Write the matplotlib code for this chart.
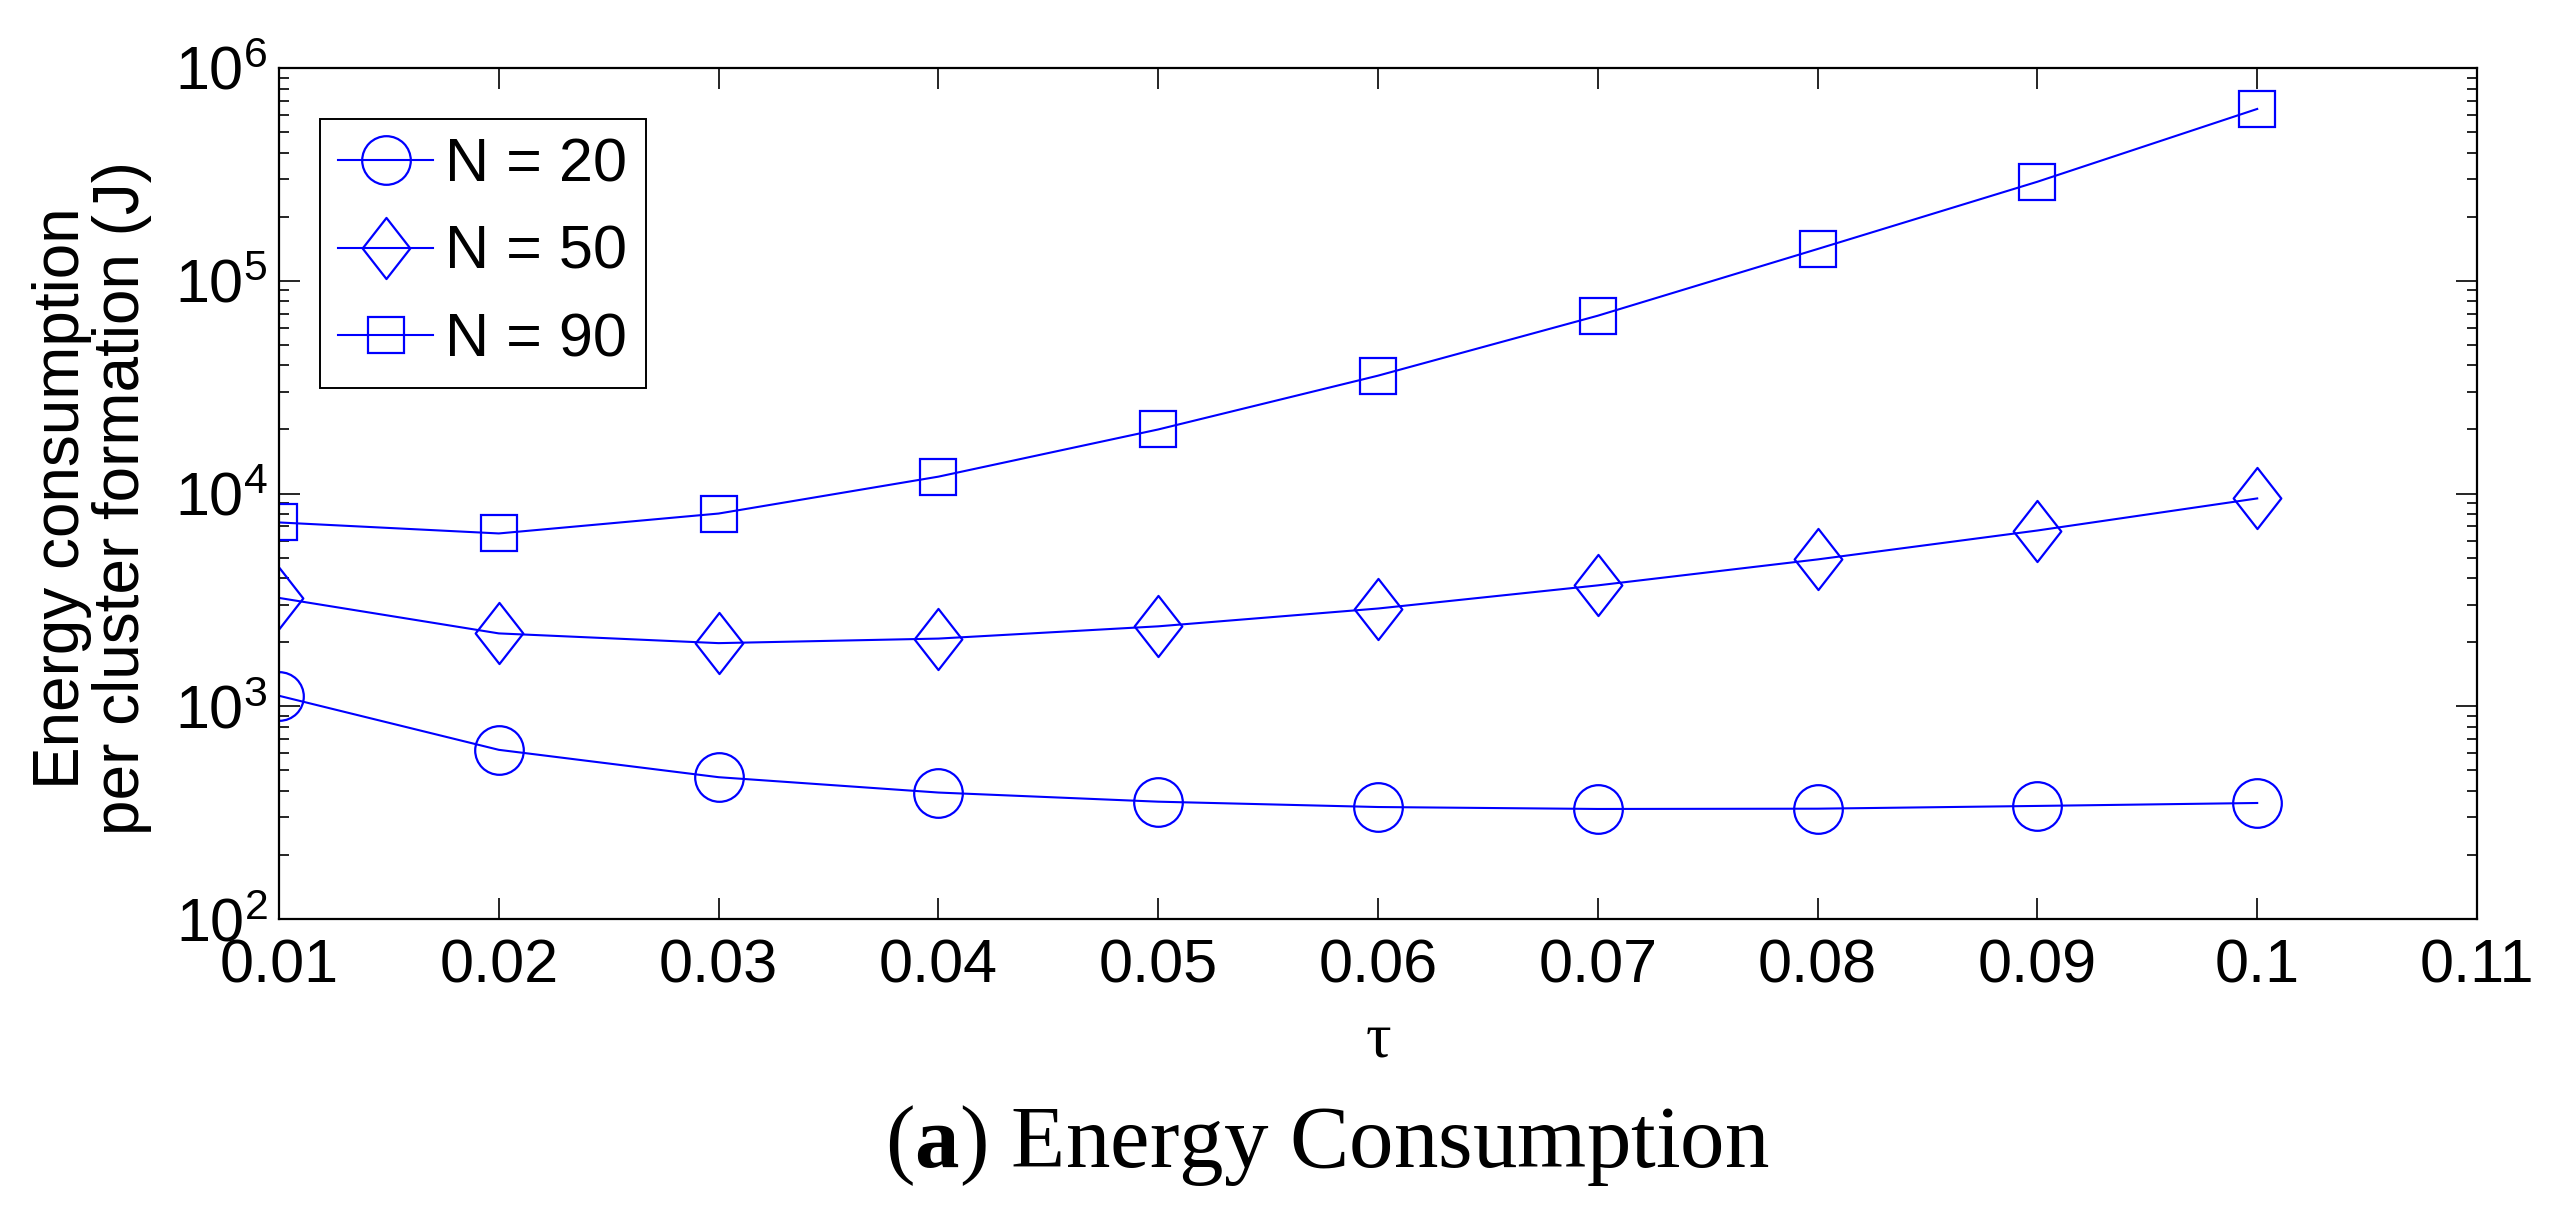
import matplotlib
matplotlib.use("Agg")
import matplotlib.pyplot as plt
from matplotlib.path import Path

## Data ##
tau = [0.01, 0.02, 0.03, 0.04, 0.05, 0.06, 0.07, 0.08, 0.09, 0.1]
energy_n20 = [1120, 624, 464, 393, 356, 336, 329, 330, 340, 351]
energy_n50 = [3230, 2200, 1980, 2080, 2375, 2880, 3700, 4900, 6700, 9480]
energy_n90 = [7310, 6490, 8050, 12000, 20000, 35800, 68500, 141000, 292000, 642000]
labels = ["N = 20", "N = 50", "N = 90"]
x_ticks = [0.01, 0.02, 0.03, 0.04, 0.05, 0.06, 0.07, 0.08, 0.09, 0.1, 0.11]
x_tick_labels = ["0.01", "0.02", "0.03", "0.04", "0.05", "0.06", "0.07", "0.08", "0.09", "0.1", "0.11"]

## Style ##
plt.rcParams["font.family"] = ["Liberation Sans", "DejaVu Sans"]
plt.rcParams["mathtext.fontset"] = "custom"
plt.rcParams["mathtext.rm"] = "Liberation Sans"
plt.rcParams["mathtext.bf"] = "Liberation Serif:bold"

# MATLAB style diamond is a bit narrower than tall
diamond = Path([(0, 0.5), (0.39, 0), (0, -0.5), (-0.39, 0), (0, 0.5)],
               [Path.MOVETO, Path.LINETO, Path.LINETO, Path.LINETO, Path.CLOSEPOLY])

fig = plt.figure(figsize=(25.57, 12.11), dpi=100)
ax = fig.add_axes([279 / 2557, 1 - 919 / 1211, (2477 - 279) / 2557, (919 - 68) / 1211])

blue = "#0000ff"
ax.plot(tau, energy_n20, color=blue, lw=1.5, marker="o", ms=35, mfc="none", mew=1.6, label=labels[0])
ax.plot(tau, energy_n50, color=blue, lw=1.5, marker=diamond, ms=44, mfc="none", mew=1.6, label=labels[1])
ax.plot(tau, energy_n90, color=blue, lw=1.5, marker="s", ms=26.5, mfc="none", mew=1.6, label=labels[2])

ax.set_xlim(0.01, 0.11)
ax.set_xticks(x_ticks)
ax.set_xticklabels(x_tick_labels)
ax.set_yscale("log")
ax.set_ylim(1e2, 1e6)

ax.tick_params(axis="both", which="both", direction="in", top=True, right=True, labelsize=44)
ax.tick_params(axis="x", which="major", length=15, width=1.2, pad=14)
ax.tick_params(axis="y", which="major", length=15, width=1.2, pad=8)
ax.tick_params(axis="y", which="minor", length=7.5, width=1.2)
for sp in ax.spines.values():
    sp.set_linewidth(1.6)

ax.set_ylabel("Energy consumption\nper cluster formation (J)", fontsize=46, linespacing=1.0)
ax.yaxis.set_label_coords(-0.058, 0.495)
ax.set_xlabel("\u03c4", fontsize=46, family="Liberation Serif")
ax.xaxis.set_label_coords(0.5, -0.11)

leg = ax.legend(loc="upper left", bbox_to_anchor=(0.0187, 0.94), borderaxespad=0,
                fontsize=44, frameon=True, fancybox=False, edgecolor="black",
                handlelength=1.55, handletextpad=0.2, labelspacing=0.5, borderpad=0.3)
leg.get_frame().set_linewidth(1.4)
leg.get_frame().set_alpha(1)

# caption below the chart
fig.text(1327 / 2557, 44 / 1211, r"($\mathbf{a}$) Energy Consumption", ha="center", va="baseline",
         fontsize=64, family="Liberation Serif")

fig.savefig("out.png", dpi=100)
